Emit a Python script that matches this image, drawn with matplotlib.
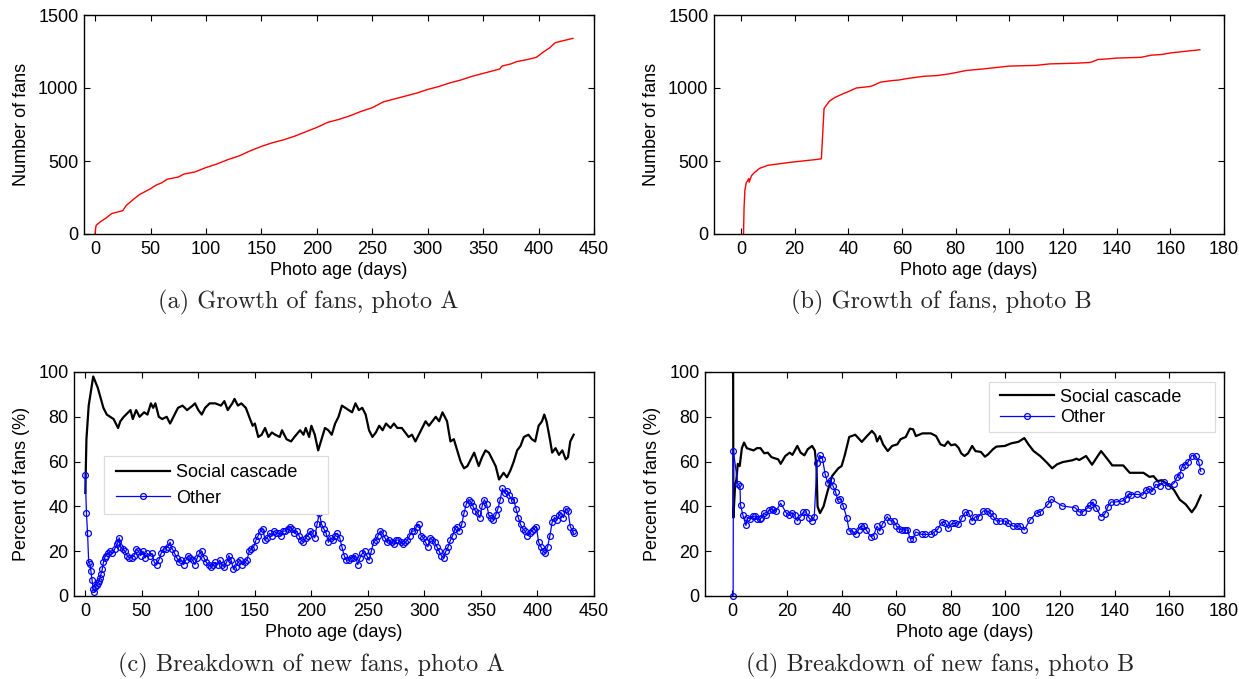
import matplotlib
matplotlib.use("Agg")
import matplotlib.pyplot as plt
from matplotlib.patches import Rectangle

# ---- data ----
# (a) growth of fans, photo A
days_a = [0, 0.5, 1, 5, 10, 15, 20, 25, 28, 35,
          40, 45, 50, 55, 60, 65, 75, 80, 90, 100,
          110, 120, 130, 140, 150, 160, 170, 180, 190, 200,
          210, 220, 230, 240, 250, 260, 270, 280, 290, 300,
          310, 320, 330, 340, 350, 360, 365, 367, 375, 380,
          390, 398, 405, 410, 415, 420, 431]
fans_a = [0, 40, 60, 85, 110, 140, 150, 160, 195, 240,
          270, 290, 310, 335, 350, 375, 390, 410, 425, 455,
          480, 510, 535, 570, 600, 625, 645, 670, 700, 730,
          765, 785, 810, 840, 865, 905, 925, 945, 965, 990,
          1010, 1035, 1055, 1080, 1100, 1120, 1130, 1150, 1165, 1180,
          1195, 1210, 1250, 1275, 1310, 1320, 1340]

# (b) growth of fans, photo B
days_b = [1, 1.2, 1.5, 2, 3, 3.1, 4, 5, 7, 10,
          14, 18, 23, 28, 30, 31, 33, 35, 38, 40,
          43, 48, 49, 52, 56, 59, 62, 68, 73, 77,
          80, 84, 90, 95, 100, 110, 115, 125, 130, 131,
          133, 137, 140, 149, 153, 157, 160, 165, 171]
fans_b = [0, 180, 300, 350, 380, 355, 400, 420, 450, 470,
          480, 490, 500, 510, 515, 860, 910, 935, 960, 975,
          1000, 1010, 1015, 1040, 1050, 1055, 1065, 1080, 1085, 1095,
          1105, 1120, 1130, 1140, 1150, 1155, 1165, 1170, 1175, 1180,
          1195, 1200, 1205, 1210, 1225, 1230, 1240, 1250, 1262]

# (c) breakdown of new fans, photo A
social_c_days = [0, 1, 3, 7, 11, 16, 19, 22, 25, 29,
                 31, 34, 38, 40, 42, 45, 48, 52, 55, 58,
                 60, 62, 65, 68, 72, 75, 78, 82, 86, 90,
                 95, 97, 100, 103, 106, 110, 115, 120, 123, 126,
                 130, 132, 135, 138, 142, 145, 148, 150, 153, 156,
                 159, 162, 165, 168, 172, 174, 178, 182, 185, 190,
                 193, 195, 198, 200, 203, 206, 209, 212, 215, 218,
                 221, 224, 227, 230, 233, 236, 239, 242, 245, 248,
                 251, 254, 257, 260, 263, 266, 270, 273, 276, 280,
                 283, 286, 289, 292, 295, 298, 301, 304, 307, 310,
                 313, 316, 318, 320, 323, 326, 329, 332, 335, 338,
                 342, 344, 348, 351, 354, 357, 360, 363, 366, 370,
                 373, 376, 379, 382, 385, 388, 392, 395, 398, 401,
                 404, 406, 408, 411, 413, 416, 419, 422, 425, 427,
                 429, 432]
social_c = [46, 70, 85, 98, 93, 84, 81, 80, 79, 75,
            78, 80, 82, 83, 79, 83, 80, 82, 81, 86,
            84, 86, 80, 79, 80, 77, 80, 84, 85, 83,
            85, 86, 83, 81, 84, 86, 86, 85, 87, 83,
            86, 88, 85, 86, 84, 80, 76, 77, 71, 72,
            75, 71, 73, 72, 71, 74, 70, 69, 71, 74,
            72, 75, 71, 76, 72, 65, 70, 75, 74, 72,
            77, 80, 85, 84, 83, 82, 86, 83, 84, 81,
            74, 71, 73, 76, 74, 77, 75, 77, 75, 75,
            73, 71, 72, 69, 72, 75, 78, 76, 78, 80,
            78, 82, 80, 78, 69, 70, 65, 60, 57, 58,
            62, 64, 58, 62, 65, 64, 61, 58, 52, 55,
            53, 56, 60, 65, 67, 71, 72, 70, 69, 76,
            78, 81, 78, 70, 64, 66, 63, 65, 61, 62,
            69, 72]

other_c_days = [0, 1, 2, 3, 4, 5, 6, 7, 8, 9,
                10, 11, 12, 13, 14, 15, 16, 17, 18, 20,
                22, 24, 26, 28, 29, 30, 31, 33, 35, 37,
                39, 41, 43, 45, 47, 49, 51, 53, 55, 57,
                59, 61, 63, 65, 67, 69, 71, 73, 75, 77,
                79, 81, 83, 85, 87, 89, 91, 93, 95, 97,
                99, 101, 103, 105, 107, 109, 111, 113, 115, 117,
                119, 121, 123, 125, 127, 129, 131, 133, 135, 137,
                139, 141, 143, 145, 147, 149, 151, 153, 155, 157,
                159, 161, 163, 165, 167, 169, 171, 173, 175, 177,
                179, 181, 183, 185, 187, 189, 191, 193, 195, 197,
                199, 201, 203, 205, 207, 209, 211, 213, 215, 217,
                219, 221, 223, 225, 227, 229, 231, 233, 235, 237,
                239, 241, 243, 245, 247, 249, 251, 253, 255, 257,
                259, 261, 263, 265, 267, 269, 271, 273, 275, 277,
                279, 281, 283, 285, 287, 289, 291, 293, 295, 297,
                299, 301, 303, 305, 307, 309, 311, 313, 315, 317,
                319, 321, 323, 325, 327, 329, 331, 333, 335, 337,
                339, 341, 343, 345, 347, 349, 351, 353, 355, 357,
                359, 361, 363, 365, 367, 369, 371, 373, 375, 377,
                379, 381, 383, 385, 387, 389, 391, 393, 395, 397,
                399, 401, 403, 405, 407, 409, 411, 413, 415, 417,
                419, 421, 423, 425, 427, 429, 431, 432]
other_c = [54, 37, 28, 15, 14.5, 11, 7, 3, 2, 4,
           5, 6, 6.5, 8, 10, 12, 15, 17, 18, 19,
           20, 19, 21, 23, 24, 26, 22, 21, 20, 18,
           17, 17, 18, 21, 20, 18, 20, 17, 19, 18,
           19, 15, 14, 16, 19, 21, 21, 22, 24, 21,
           19, 17, 15, 16, 14, 16, 18, 17, 16, 14,
           17, 19, 20, 17, 15, 14, 13, 14, 15, 14,
           16, 14, 13, 15, 18, 16, 12, 13, 15, 16,
           14, 15, 16, 20, 21, 22, 25, 27, 29, 30,
           25, 26, 28, 27, 29, 28, 28, 27, 29, 29,
           30, 31, 30, 28, 29, 27, 25, 24, 26, 27,
           29, 28, 26, 32, 37, 32, 30, 28, 24, 26,
           25, 27, 28, 26, 22, 18, 16, 16, 17, 17,
           18, 14, 17, 19, 20, 18, 16, 20, 24, 25,
           27, 29, 28, 26, 24, 25, 24, 23, 25, 25,
           24, 23, 24, 25, 27, 29, 29, 31, 32, 27,
           26, 24, 22, 26, 25, 24, 22, 20, 18, 17,
           20, 22, 25, 27, 30, 31, 29, 32, 37, 41,
           43, 42, 40, 38, 37, 35, 40, 43, 41, 36,
           35, 34, 36, 39, 43, 48, 46, 47, 45, 43,
           43, 39, 35, 32, 30, 29, 27, 28, 29, 30,
           31, 24, 22, 20, 19, 22, 27, 33, 35, 34,
           36, 37, 35, 39, 38, 31, 29, 28]

# (d) breakdown of new fans, photo B
social_d_days = [0.3, 0.4, 1, 1.5, 2, 2.7, 3.5, 4.3, 5.3, 6.5,
                 7.8, 9, 10.3, 11.7, 13, 14.3, 15.5, 16.8, 17.7, 19.4,
                 21, 22, 23.8, 25, 26.4, 27.6, 29.2, 30.2, 30.8, 31.2,
                 32.1, 33.4, 34.7, 36.5, 38.8, 40, 41.2, 42.8, 45, 47.4,
                 49.3, 51.1, 52.3, 53, 54, 55.2, 56.9, 58.5, 60.4, 61.6,
                 63.5, 65, 66.2, 67.2, 69.6, 72.7, 74.6, 76.2, 77.7, 78.9,
                 80.1, 81.6, 82.8, 83.8, 85, 86.3, 87.8, 89, 91, 92.5,
                 93.6, 95.4, 96.7, 99.8, 102.2, 104.7, 106.9, 108.4, 110.3, 112.7,
                 115.2, 117.1, 118.9, 121, 124.5, 126, 127, 129.5, 131.7, 133.4,
                 135, 136.9, 139.1, 143.1, 145.5, 148, 150.5, 152.7, 154.2, 155.7,
                 157.2, 159.4, 161.6, 163.8, 166, 168.2, 169.7, 171.5]
social_d = [100, 35, 49, 52, 59, 58, 66, 68.5, 66, 65.5,
            65, 66, 66, 63.7, 64, 62, 61.5, 61, 59, 62.5,
            64, 63, 67, 64, 62.8, 65.5, 67, 65, 58, 40,
            37, 40, 46, 53.5, 57, 58, 63, 71, 72, 68.8,
            71.4, 73.7, 72, 69, 71.4, 67.7, 64.7, 67, 67.7, 70,
            71, 74.7, 74.4, 71.4, 72.6, 72.6, 71.4, 67.7, 67, 69,
            67.3, 67.7, 66.2, 63.7, 62.5, 63.7, 67, 64.7, 64.3, 62.2,
            63.2, 65.5, 66.7, 67, 68.2, 68.8, 70.5, 67.7, 64.7, 62.5,
            59.5, 57, 58.8, 59.8, 60.6, 61.3, 60.7, 62.5, 58.6, 61.8,
            64.7, 61.8, 58.3, 58.3, 55, 55, 55, 53.2, 53.5, 51.3,
            51.7, 49.8, 47.5, 43, 40.9, 37.4, 40, 44.9]

other_d_days = [0.3, 0.4, 2, 2.8, 3, 3.9, 5, 5.5, 6.5, 7.5,
                8.4, 9.2, 10, 10.6, 11.5, 12.5, 13.4, 14.4, 15, 16,
                17.7, 19.7, 20.7, 21.9, 22.9, 23.8, 25, 26, 27, 28,
                29.1, 30, 31, 32, 33, 34, 35, 36, 36.9, 37.8,
                38.6, 39.6, 40.6, 41.9, 42.8, 44, 45.1, 46.2, 47, 48.3,
                49, 50.7, 51.7, 53, 54, 54.9, 56.7, 57.9, 59.1, 60.1,
                61.1, 62.1, 63.1, 64.1, 65.1, 66.1, 67.1, 69.3, 70.6, 72.7,
                74, 75.2, 76.7, 78, 79.1, 80.4, 81.6, 82.8, 84.1, 85.3,
                86.5, 87.8, 89, 90.2, 91.9, 93.3, 94.2, 95.4, 96.7, 97.9,
                99.8, 101, 102.8, 104.1, 105.3, 106.9, 109, 111.5, 112.7, 115.6,
                116.8, 120.8, 125.5, 127, 128.3, 130.1, 131, 132, 133.2, 135,
                136.3, 137.5, 138.7, 140.5, 142.8, 144.1, 144.9, 146, 148, 150.2,
                151.3, 152.7, 153.8, 155, 156.4, 158.2, 159.4, 161.6, 162.8, 163.8,
                164.6, 165.6, 166.8, 168.2, 169.7, 170.8, 171.5]
other_d = [0, 64.7, 50, 49, 40.6, 36, 31.5, 35, 34.5, 35.5,
           35.7, 34.2, 34.2, 34.8, 37, 36, 38.4, 39, 38.4, 38,
           41.4, 37.2, 36, 37.2, 36, 33.5, 35.4, 37.5, 37.5, 35,
           33.5, 35.4, 59.5, 62.8, 61.3, 54.3, 50.3, 52, 49, 46.4,
           43, 43.3, 40.2, 35, 29, 29, 27.5, 29.5, 31.2, 31.2,
           29.5, 26.5, 27, 31.2, 29, 32, 35.4, 33.5, 33.5, 31.2,
           29.8, 29.5, 29.5, 29.5, 25.6, 25.6, 28.6, 27.5, 27.5, 27.5,
           28.6, 29.8, 33, 32.7, 30.2, 32.4, 32.4, 32, 35, 37.5,
           37.2, 33.5, 35.4, 35.4, 38, 38, 37.2, 35.7, 33.5, 33.5,
           33.5, 32.4, 31.2, 31.2, 31.2, 29.5, 34, 37.2, 37.5, 41,
           43.2, 40.2, 39.4, 37.5, 37.5, 39.4, 40.5, 42, 39.4, 35.4,
           36.5, 39.9, 42, 42, 42.4, 43.5, 45.4, 45.3, 45.4, 45,
           47.1, 47.8, 46.8, 49.8, 49.3, 50.8, 49, 50.2, 53.2, 54.2,
           57.7, 58.7, 59.7, 62.7, 62.4, 59.7, 55.7]

series_names = ["Social cascade", "Other"]
captions = ["(a) Growth of fans, photo A", "(b) Growth of fans, photo B",
            "(c) Breakdown of new fans, photo A", "(d) Breakdown of new fans, photo B"]

# ---- styling ----
plt.rcParams["font.family"] = ["Liberation Sans", "DejaVu Sans"]
plt.rcParams["font.size"] = 13
W, H = 1239, 679
fig = plt.figure(figsize=(W / 100, H / 100), dpi=100)


def make_axes(box):
    left, top, right, bottom = box
    ax = fig.add_axes([left / W, 1 - bottom / H, (right - left) / W, (bottom - top) / H])
    ax.box_px = box
    return ax


def to_axes_frac(ax, x, y):
    left, top, right, bottom = ax.box_px
    return (x - left) / (right - left), (bottom - y) / (bottom - top)


def style(ax, xlim, xticks, ylim, yticks, ylabel):
    ax.set_xlim(*xlim)
    ax.set_ylim(*ylim)
    ax.set_xticks(xticks)
    ax.set_yticks(yticks)
    ax.tick_params(direction="in", top=True, right=True, length=4, width=0.8, pad=4)
    ax.tick_params(axis="x", pad=5)
    for s in ax.spines.values():
        s.set_linewidth(1.0)
    ax.set_xlabel("Photo age (days)", labelpad=3)
    ax.set_ylabel(ylabel, labelpad=6)


def matlab_legend(ax, frame_px, handle_px, rows_mid_y, spacing):
    # legend text without frame, plus a light grey box like the MATLAB one
    fx0, fy0 = to_axes_frac(ax, frame_px[0], frame_px[3])
    fx1, fy1 = to_axes_frac(ax, frame_px[2], frame_px[1])
    ax.add_patch(Rectangle((fx0, fy0), fx1 - fx0, fy1 - fy0, transform=ax.transAxes,
                           facecolor="white", edgecolor="#dcdcdc", lw=0.9, zorder=4.5))
    hx, hy = to_axes_frac(ax, handle_px, rows_mid_y)
    ax.legend(loc="center left", bbox_to_anchor=(hx, hy), borderaxespad=0, borderpad=0,
              frameon=False, handlelength=3.0, handletextpad=0.35,
              fontsize=13, labelspacing=spacing)


ax_a = make_axes((84, 15, 594, 234))
ax_b = make_axes((714, 15, 1224, 234))
ax_c = make_axes((74, 372, 594, 596))
ax_d = make_axes((705, 372, 1224, 596))

ax_a.plot(days_a, fans_a, color="#ff0000", lw=1.0)
style(ax_a, (-10, 450), range(0, 451, 50), (0, 1500), range(0, 1501, 500), "Number of fans")

ax_b.plot(days_b, fans_b, color="#ff0000", lw=1.0)
style(ax_b, (-10, 180), range(0, 181, 20), (0, 1500), range(0, 1501, 500), "Number of fans")

mk = dict(color="#0000ff", lw=0.9, marker="o", markersize=4.2,
          markerfacecolor="none", markeredgewidth=0.9)

ax_c.plot(social_c_days, social_c, color="black", lw=1.6, label=series_names[0])
ax_c.plot(other_c_days, other_c, label=series_names[1], **mk)
style(ax_c, (-10, 450), range(0, 451, 50), (0, 100), range(0, 101, 20), "Percent of fans (%)")
matlab_legend(ax_c, (104, 456, 328, 514), 116, 485.5, 0.45)

ax_d.plot(social_d_days, social_d, color="black", lw=1.6, label=series_names[0])
ax_d.plot(other_d_days, other_d, label=series_names[1], clip_on=False, **mk)
style(ax_d, (-10, 180), range(0, 181, 20), (0, 100), range(0, 101, 20), "Percent of fans (%)")
matlab_legend(ax_d, (989, 382, 1215, 432), 1000, 407.5, 0.22)

# sub-figure captions (LaTeX style serif)
cap_pos = [(308, 302), (941, 302), (311, 665), (940, 665)]
for text, (cx, cy) in zip(captions, cap_pos):
    fig.text(cx / W, 1 - cy / H, text, ha="center", va="center",
             fontsize=17.5, family=["cmr10", "DejaVu Serif"], color="#262626")

fig.savefig("out.png", dpi=100)
